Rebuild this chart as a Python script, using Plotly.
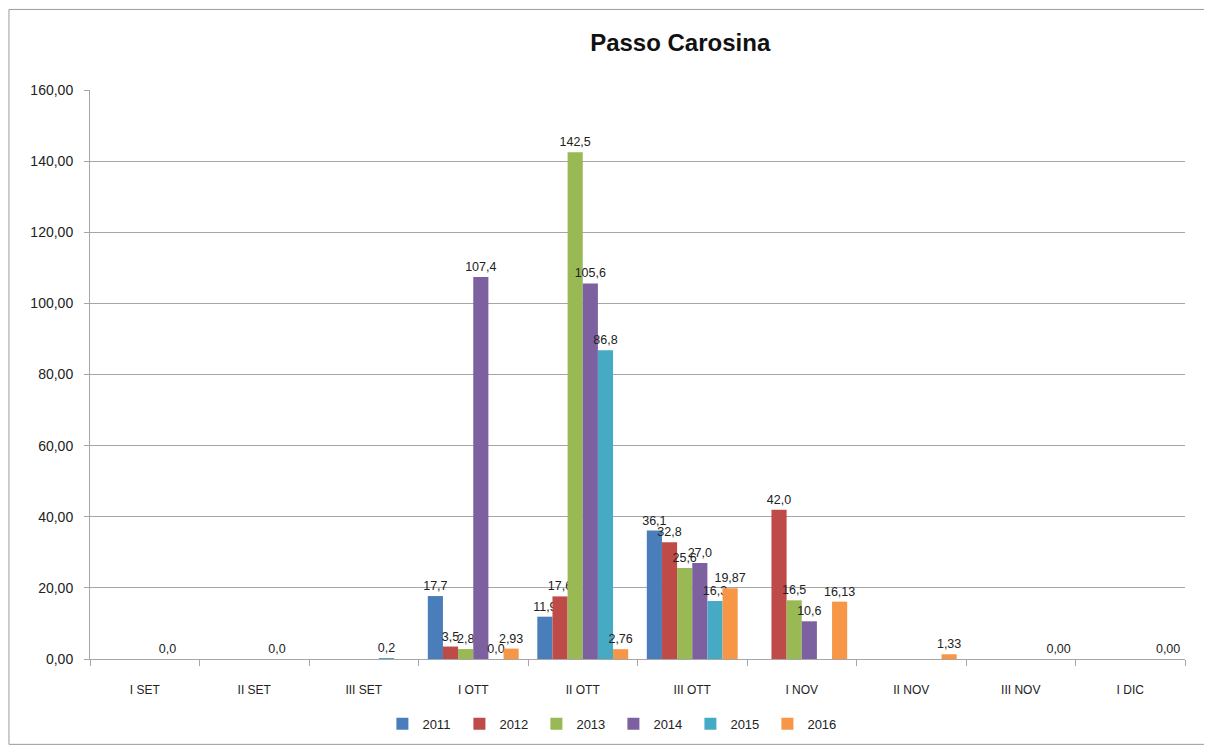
import plotly.graph_objects as go

categorie = ['I SET', 'II SET', 'III SET', 'I OTT', 'II OTT', 'III OTT',
             'I NOV', 'II NOV', 'III NOV', 'I DIC']

anni = ['2011', '2012', '2013', '2014', '2015', '2016']

v2011 = [None, None, None, 17.7, 11.9, 36.1, None, None, None, None]
v2012 = [None, None, None, 3.5, 17.6, 32.8, 42.0, None, None, None]
v2013 = [None, None, None, 2.8, 142.5, 25.6, 16.5, None, None, None]
v2014 = [None, None, None, 107.4, 105.6, 27.0, 10.6, None, None, None]
v2015 = [0.0, 0.0, 0.2, 0.0, 86.8, 16.3, None, None, None, None]
v2016 = [None, None, None, 2.93, 2.76, 19.87, 16.13, 1.33, 0.00, 0.00]

# decimali per serie (come nelle etichette originali)
decimali = [1, 1, 1, 1, 1, 2]
colori = ['#4A7EBB', '#BE4B48', '#98B954', '#7D60A0', '#46AAC5', '#F79646']

serie = [v2011, v2012, v2013, v2014, v2015, v2016]

font_fam = 'Liberation Sans, sans-serif'

fig = go.Figure()
for anno, vals, dec, col in zip(anni, serie, decimali, colori):
    testi = ['' if v is None else f'{v:.{dec}f}'.replace('.', ',') for v in vals]
    fig.add_trace(go.Bar(
        x=categorie, y=vals, name=anno,
        marker=dict(color=col, line=dict(width=0)),
        text=testi, textposition='outside', cliponaxis=False,
        textfont=dict(size=12.5, color='#222222', family=font_fam),
    ))

# la pagina aggiunge 8px di margine al div: compenso su larghezza/altezza
fig.update_layout(
    width=1204, height=743,
    barmode='group', bargap=0.17, bargroupgap=0.0,
    separators=', ',
    uniformtext=dict(minsize=12.5, mode='show'),
    paper_bgcolor='white', plot_bgcolor='white',
    margin=dict(l=82, r=27, t=82, b=89),
    font=dict(family=font_fam, size=12, color='#222222'),
    title=dict(text='<b>Passo Carosina</b>', x=0.539, xref='paper', xanchor='center',
               y=0.954, yanchor='middle',
               font=dict(size=24, family='Liberation Sans', color='#111111')),
    legend=dict(orientation='h', x=0.478, xanchor='center', y=-0.114, yanchor='middle',
                font=dict(size=13), itemwidth=30, entrywidth=32,
                entrywidthmode='pixels', traceorder='normal'),
    showlegend=True,
)

fig.update_yaxes(range=[0, 160], dtick=20, tickformat='.2f',
                 showgrid=True, gridcolor='#A6A6A6', gridwidth=1,
                 showline=True, linecolor='#A6A6A6', ticks='outside',
                 ticklen=5, tickcolor='#A6A6A6', zeroline=False,
                 ticklabelstandoff=8, tickfont=dict(size=14))
fig.update_xaxes(showline=True, linecolor='#A6A6A6', ticks='outside',
                 tickson='boundaries', ticklen=6, tickcolor='#A6A6A6',
                 ticklabelstandoff=20, tickfont=dict(size=12))

# bordo esterno del grafico
fig.add_shape(type='rect', xref='paper', yref='paper',
              x0=-0.074, x1=1.021, y0=-0.150, y1=1.1416,
              line=dict(color='#9A9A9A', width=1))

fig.write_html('out.html')
